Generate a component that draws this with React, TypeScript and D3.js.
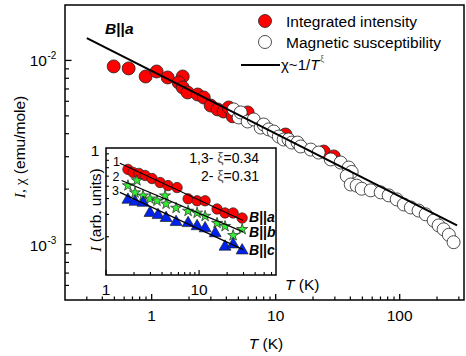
import React from "react";
import * as d3 from "d3";

// ---- Main panel data ----
const intT = [0.494, 0.652, 0.894, 1.097, 1.346, 1.78, 1.65, 1.78, 1.95, 2.35, 2.63, 2.99, 3.4, 3.8, 4.18, 4.5, 5.94, 12.0, 24.4, 29.4];
const intV = [0.00928, 0.00905, 0.00818, 0.00871, 0.00808, 0.00818, 0.00759, 0.00713, 0.0067, 0.00653, 0.00629, 0.00569, 0.00542, 0.00528, 0.00555, 0.00497, 0.00522, 0.00396, 0.0032, 0.00301];

const susT = [4.58, 5.03, 5.22, 5.94, 6.65, 7.57, 8.0, 8.78, 9.64, 10.6, 11.6, 12.7, 13.5, 15.0, 15.9, 19.2, 22.2, 27.8, 33.4, 38.8, 41.0, 37.4, 40.3, 45.0, 49.4, 58.4, 70.3, 81.5, 94.6, 108, 123, 142, 162, 188, 206, 226, 249, 272];
const susV = [0.00542, 0.0049, 0.00522, 0.00466, 0.00478, 0.00432, 0.00449, 0.00422, 0.00411, 0.00386, 0.00372, 0.00372, 0.00358, 0.00358, 0.00341, 0.00328, 0.00316, 0.0029, 0.00279, 0.00262, 0.00248, 0.00236, 0.00212, 0.00209, 0.00201, 0.00197, 0.00192, 0.00185, 0.00176, 0.00165, 0.00159, 0.00153, 0.00146, 0.00135, 0.00127, 0.00121, 0.00113, 0.00103];

const fitT = [0.3, 290];
const fitV = [0.0132, 0.00127];

const mainXMajor = [1, 10, 100];
const mainXMinor = [0.3, 0.4, 0.5, 0.6, 0.7, 0.8, 0.9, 2, 3, 4, 5, 6, 7, 8, 9, 20, 30, 40, 50, 60, 70, 80, 90, 200, 300];
const mainXLabels = ["1", "10", "100"];
const mainYMajor = [1e-3, 1e-2];
const mainYExp = ["-3", "-2"];
const mainYMinor = [6e-4, 7e-4, 8e-4, 9e-4, 2e-3, 3e-3, 4e-3, 5e-3, 6e-3, 7e-3, 8e-3, 9e-3];

// ---- Inset data ----
const aT = [1.72, 1.95, 2.26, 2.63, 3.12, 3.81, 4.64, 5.8, 7.62, 9.52, 11.6, 15.6, 19.0, 23.2, 29.0];
const aV = [0.679, 0.643, 0.631, 0.608, 0.575, 0.535, 0.506, 0.488, 0.398, 0.384, 0.384, 0.331, 0.308, 0.308, 0.281];
const bT = [1.72, 2.15, 2.05, 2.5, 2.97, 3.53, 4.31, 4.42, 5.66, 7.62, 9.52, 11.6, 15.6, 19.0, 23.2, 29.0];
const bV = [0.506, 0.555, 0.445, 0.421, 0.398, 0.384, 0.421, 0.363, 0.337, 0.319, 0.308, 0.291, 0.256, 0.242, 0.205, 0.229];
const cT = [1.72, 2.05, 2.5, 2.97, 3.62, 4.42, 5.66, 7.62, 9.52, 11.6, 14.9, 19.0, 23.2, 29.0];
const cV = [0.391, 0.377, 0.37, 0.308, 0.296, 0.281, 0.261, 0.256, 0.242, 0.233, 0.213, 0.167, 0.174, 0.156];

const fit1T = [1.41, 29.7];
const fit1V = [0.759, 0.269];
const fit2T = [1.47, 29.7];
const fit2V = [0.555, 0.2185];
const fit3T = [1.41, 29.7];
const fit3V = [0.447, 0.1585];

const inXMajor = [1, 10];
const inXLabels = ["1", "10"];
const inXMinor = [2, 3, 4, 5, 6, 7, 8, 9, 20, 30, 40, 50, 60];
const inYMinor = [0.2, 0.3, 0.4, 0.5, 0.6, 0.7, 0.8, 0.9];
const curveLabels = ["1", "2", "3"];

const SANS = "'Liberation Sans', Arial, sans-serif";
const SERIF = "'Liberation Serif', 'Times New Roman', serif";

export default function App() {
  const L = 65, R = 464, T = 5, B = 300;
  const x = d3.scaleLog().domain([0.2, 330]).range([L, R]);
  const y = d3.scaleLog().domain([5e-4, 2e-2]).range([B, T]);

  const iL = 106, iR = 276, iT = 148, iB = 275;
  const ix = d3.scaleLog().domain([1, 67]).range([iL, iR]);
  const iy = d3.scaleLog().domain([0.1, 1]).range([iB, iT]);

  const line = d3.line<[number, number]>();
  const mainFit = line(fitT.map((t, i) => [x(t), y(fitV[i])]));
  const inFit = (ts: number[], vs: number[]) => line(ts.map((t, i) => [ix(t), iy(vs[i])]));

  const star = d3.symbol(d3.symbolStar, 38)();
  const tri = d3.symbol(d3.symbolTriangle, 62)();

  return (
    <svg width={466} height={356} style={{ position: "absolute", left: 0, top: 0, background: "#fff" }} fontFamily={SANS}>
      {/* main frame */}
      <rect x={L} y={T} width={R - L} height={B - T} fill="white" stroke="black" strokeWidth={1.5} />
      {mainXMajor.map((v, i) => (
        <g key={"xm" + i}>
          <line x1={x(v)} x2={x(v)} y1={B} y2={B - 6} stroke="black" strokeWidth={1.3} />
          <text x={x(v)} y={321} fontSize={15.5} textAnchor="middle">{mainXLabels[i]}</text>
        </g>
      ))}
      {mainXMinor.map((v, i) => (
        <line key={"xn" + i} x1={x(v)} x2={x(v)} y1={B} y2={B - 3.5} stroke="black" strokeWidth={1.2} />
      ))}
      {mainYMajor.map((v, i) => (
        <g key={"ym" + i}>
          <line x1={L} x2={L + 6.5} y1={y(v)} y2={y(v)} stroke="black" strokeWidth={1.3} />
          <text x={47} y={y(v) + 6} fontSize={15.5} textAnchor="end">10</text>
          <text x={47.5} y={y(v) - 1} fontSize={10}>{mainYExp[i]}</text>
        </g>
      ))}
      {mainYMinor.map((v, i) => (
        <line key={"yn" + i} x1={L} x2={L + 4} y1={y(v)} y2={y(v)} stroke="black" strokeWidth={1.2} />
      ))}
      <text x={266} y={349} fontSize={15.5} textAnchor="middle">
        <tspan fontStyle="italic">T</tspan> (K)
      </text>
      <text transform="translate(25,147) rotate(-90)" fontSize={15.5} textAnchor="middle">
        <tspan fontFamily={SERIF} fontStyle="italic">I</tspan>
        <tspan fontFamily={SERIF}>, χ</tspan> (emu/mole)
      </text>
      <text x={105} y={34} fontSize={15.5} fontWeight="bold">
        <tspan fontStyle="italic">B</tspan>||<tspan fontStyle="italic">a</tspan>
      </text>

      {/* main data */}
      {intT.map((t, i) => (
        <circle key={"r" + i} cx={x(t)} cy={y(intV[i])} r={6.5} fill="#ff0000" stroke="#222" strokeWidth={0.8} />
      ))}
      {susT.map((t, i) => (
        <circle key={"o" + i} cx={x(t)} cy={y(susV[i])} r={6.5} fill="white" stroke="#222" strokeWidth={0.8} />
      ))}
      <path d={mainFit || ""} stroke="black" strokeWidth={2} fill="none" />

      {/* legend */}
      <circle cx={265} cy={21} r={6.5} fill="#ff0000" stroke="#222" strokeWidth={0.8} />
      <text x={286} y={27} fontSize={15.5}>Integrated intensity</text>
      <circle cx={265} cy={42} r={6.5} fill="white" stroke="#222" strokeWidth={0.8} />
      <text x={286} y={47.5} fontSize={15.5}>Magnetic susceptibility</text>
      <line x1={241} x2={280} y1={65} y2={65} stroke="black" strokeWidth={2} />
      <text x={281} y={70} fontSize={15}>
        χ~1/<tspan fontStyle="italic">T</tspan>
        <tspan dx={1} dy={-8} fontSize={8.5} fill="#666">ξ</tspan>
      </text>

      {/* inset */}
      <rect x={iL} y={iT} width={iR - iL} height={iB - iT} fill="white" stroke="black" strokeWidth={1.5} />
      {inXMajor.map((v, i) => (
        <g key={"ixm" + i}>
          <line x1={ix(v)} x2={ix(v)} y1={iB} y2={iB - 5} stroke="black" strokeWidth={1.2} />
          <text x={ix(v)} y={295} fontSize={15.5} textAnchor="middle">{inXLabels[i]}</text>
        </g>
      ))}
      {inXMinor.map((v, i) => (
        <line key={"ixn" + i} x1={ix(v)} x2={ix(v)} y1={iB} y2={iB - 3} stroke="black" strokeWidth={1.1} />
      ))}
      {inYMinor.map((v, i) => (
        <line key={"iyn" + i} x1={iL} x2={iL + 3} y1={iy(v)} y2={iy(v)} stroke="black" strokeWidth={1.1} />
      ))}
      <text x={95} y={156} fontSize={15.5} textAnchor="middle">1</text>
      <text transform="translate(101,210) rotate(-90)" fontSize={15.5} textAnchor="middle">
        <tspan fontFamily={SERIF} fontStyle="italic">I</tspan> (arb. units)
      </text>
      <text x={285} y={290} fontSize={15.5}>
        <tspan fontStyle="italic">T</tspan> (K)
      </text>

      <text x={259} y={163} fontSize={14} textAnchor="end">
        1,3- <tspan fill="#555">ξ</tspan>=0.34
      </text>
      <text x={259} y={181} fontSize={14} textAnchor="end">
        2- <tspan fill="#555">ξ</tspan>=0.31
      </text>
      {curveLabels.map((c, i) => (
        <text key={"cl" + i} x={116.5 - i * 0.5} y={166 + i * 14.5} fontSize={12.5} textAnchor="middle">{c}</text>
      ))}

      {aT.map((t, i) => (
        <circle key={"a" + i} cx={ix(t)} cy={iy(aV[i])} r={5.2} fill="#ff0000" stroke="#222" strokeWidth={0.7} />
      ))}
      {bT.map((t, i) => (
        <path key={"b" + i} d={star || ""} transform={`translate(${ix(t)},${iy(bV[i])})`} fill="#33ee33" stroke="#222" strokeWidth={0.7} />
      ))}
      {cT.map((t, i) => (
        <path key={"c" + i} d={tri || ""} transform={`translate(${ix(t)},${iy(cV[i])})`} fill="#0022ee" stroke="#222" strokeWidth={0.7} />
      ))}
      <path d={inFit(fit1T, fit1V) || ""} stroke="black" strokeWidth={1.2} fill="none" />
      <path d={inFit(fit2T, fit2V) || ""} stroke="black" strokeWidth={1.2} fill="none" />
      <path d={inFit(fit3T, fit3V) || ""} stroke="black" strokeWidth={1.2} fill="none" />

      <text x={249} y={222} fontSize={14} fontWeight="bold">
        <tspan fontStyle="italic">B</tspan>||<tspan fontStyle="italic">a</tspan>
      </text>
      <text x={249} y={237} fontSize={14} fontWeight="bold">
        <tspan fontStyle="italic">B</tspan>||<tspan fontStyle="italic">b</tspan>
      </text>
      <text x={249} y={255} fontSize={14} fontWeight="bold">
        <tspan fontStyle="italic">B</tspan>||<tspan fontStyle="italic">c</tspan>
      </text>
    </svg>
  );
}
